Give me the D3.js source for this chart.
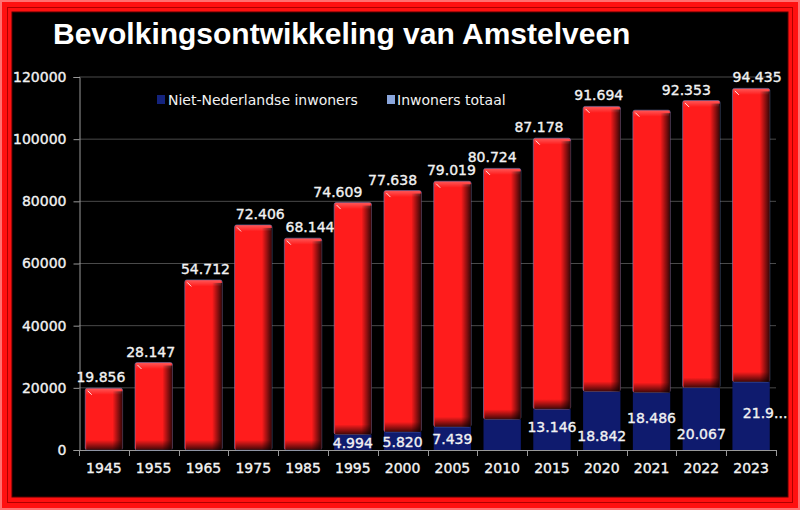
<!DOCTYPE html>
<html><head><meta charset="utf-8">
<script src="https://cdn.jsdelivr.net/npm/d3@7"></script>
<style>html,body{margin:0;padding:0;background:#000;}svg{display:block;}</style>
</head><body>
<svg id="c" width="800" height="510"></svg>
<script>
// ---- data ----
const years = ["1945","1955","1965","1975","1985","1995","2000","2005","2010","2015","2020","2021","2022","2023"];
const nietNederlands = [0,0,0,0,0,4994,5820,7439,9870,13146,18842,18486,20067,21900];
const inwonersTotaal = [19856,28147,54712,72406,68144,74609,77638,79019,80724,87178,91694,90840,92353,94435];
const totaalLabels = ["19.856","28.147","54.712","72.406","68.144","74.609","77.638","79.019","80.724","87.178","91.694",null,"92.353","94.435"];
const nietLabels = [null,null,null,null,null,"4.994","5.820","7.439",null,"13.146","18.842","18.486","20.067","21.9..."];
const yTicks = [0,20000,40000,60000,80000,100000,120000];
const seriesNames = ["Niet-Nederlandse inwoners","Inwoners totaal"];
const title = "Bevolkingsontwikkeling van Amstelveen";
// layout nudges for labels (px), as placed in the original
const topLabelNudge = [-3,-3,2,7,7,-15,-10,-1,-10,-13,-3,0,-15,6];
const nietLabelNudge = [0,0,0,0,0,0,0,0,0,0,0,0,0,14];

const svg = d3.select("#c");
const W = 800, H = 510;
const defs = svg.append("defs");
const FONT = "DejaVu Sans, Verdana, sans-serif";

// frame
svg.append("rect").attr("x",0).attr("y",0).attr("width",W).attr("height",H).attr("fill","#ff1010");
svg.append("rect").attr("x",1).attr("y",1).attr("width",W-2).attr("height",H-2).attr("fill","none").attr("stroke","#ff7070").attr("stroke-width",2);
svg.append("rect").attr("x",7.5).attr("y",7.5).attr("width",W-15).attr("height",H-15).attr("fill","none").attr("stroke","#b00000").attr("stroke-width",1);
svg.append("rect").attr("x",12).attr("y",12).attr("width",W-24).attr("height",H-25).attr("fill","#000").attr("stroke","#500000").attr("stroke-width",1);

// title
svg.append("text").attr("x",53).attr("y",44).text(title)
  .attr("font-family","Liberation Sans, Arial, sans-serif").attr("font-weight","bold")
  .attr("font-size",30).attr("fill","#fff");

const x = d3.scaleBand().domain(years).range([79,776]).paddingInner(0.25).paddingOuter(0.125);
const y = d3.scaleLinear().domain([0,120000]).range([450,77]);

function txt(sel){
  sel.attr("fill","#f2f2f2").attr("font-family",FONT).attr("font-size",14)
     .attr("stroke","#f2f2f2").attr("stroke-width",0.35);
}

// gridlines
svg.append("g").selectAll("line").data(yTicks.filter(d=>d>0)).join("line")
  .attr("x1",79).attr("x2",776).attr("y1",d=>y(d)).attr("y2",d=>y(d))
  .attr("stroke","#4a4a4a").attr("stroke-width",1);

// y axis
const yAxis = svg.append("g").attr("transform","translate(79.5,0)")
  .call(d3.axisLeft(y).tickValues(yTicks).tickFormat(d3.format("d")).tickSize(6).tickPadding(7));
yAxis.select(".domain").attr("stroke","#999");
yAxis.selectAll(".tick line").attr("stroke","#999");
yAxis.selectAll("text").call(txt);

// x axis
const xAxis = svg.append("g").attr("transform","translate(0,450.5)")
  .call(d3.axisBottom(x).tickSize(0).tickPadding(13));
xAxis.select(".domain").attr("stroke","#999").attr("d","M79,0H776");
xAxis.selectAll("text").call(txt);
const bounds = years.map(v=>x(v)-x.step()*x.paddingInner()/2).concat([776]);
svg.append("g").selectAll("line").data(bounds).join("line")
  .attr("x1",d=>Math.round(d)+0.5).attr("x2",d=>Math.round(d)+0.5).attr("y1",450).attr("y2",456)
  .attr("stroke","#999");

// gradients for bevel
const gR = defs.append("linearGradient").attr("id","gRight").attr("x1",0).attr("x2",1).attr("y1",0).attr("y2",0);
gR.append("stop").attr("offset","0%").attr("stop-color","#000").attr("stop-opacity",0);
gR.append("stop").attr("offset","100%").attr("stop-color","#000").attr("stop-opacity",0.8);
const gB = defs.append("linearGradient").attr("id","gBottom").attr("x1",0).attr("x2",0).attr("y1",0).attr("y2",1);
gB.append("stop").attr("offset","0%").attr("stop-color","#000").attr("stop-opacity",0);
gB.append("stop").attr("offset","100%").attr("stop-color","#000").attr("stop-opacity",0.75);
const gT = defs.append("linearGradient").attr("id","gTop").attr("x1",0).attr("x2",0).attr("y1",0).attr("y2",1);
gT.append("stop").attr("offset","0%").attr("stop-color","#fff").attr("stop-opacity",0.25);
gT.append("stop").attr("offset","100%").attr("stop-color","#fff").attr("stop-opacity",0);

const rows = years.map((yr,i)=>({yr,i,n:nietNederlands[i],t:inwonersTotaal[i]}));
const bw = x.bandwidth();

// navy segments
svg.append("g").selectAll("rect").data(rows.filter(d=>d.n>0)).join("rect")
  .attr("x",d=>x(d.yr)).attr("width",bw)
  .attr("y",d=>y(d.n)).attr("height",d=>y(0)-y(d.n))
  .attr("fill","#0f1b6e");

// red segments
const red = svg.append("g").selectAll("g").data(rows).join("g");
red.append("rect")
  .attr("x",d=>x(d.yr)).attr("width",bw)
  .attr("y",d=>y(d.n+d.t)).attr("height",d=>y(d.n)-y(d.n+d.t))
  .attr("rx",2).attr("fill","#ff1c1c").attr("stroke","#6f88c8").attr("stroke-width",0.8).attr("stroke-opacity",0.7);
red.append("rect")
  .attr("x",d=>x(d.yr)+bw-10).attr("width",10)
  .attr("y",d=>y(d.n+d.t)+3).attr("height",d=>y(d.n)-y(d.n+d.t)-3)
  .attr("fill","url(#gRight)");
red.append("rect")
  .attr("x",d=>x(d.yr)+1).attr("width",bw-2)
  .attr("y",d=>y(d.n)-10).attr("height",10)
  .attr("fill","url(#gBottom)");
red.append("rect")
  .attr("x",d=>x(d.yr)+1).attr("width",bw-2)
  .attr("y",d=>y(d.n+d.t)+0.5).attr("height",6)
  .attr("fill","url(#gTop)");
red.append("line")
  .attr("x1",d=>x(d.yr)+2.5).attr("y1",d=>y(d.n+d.t)+2.5)
  .attr("x2",d=>x(d.yr)+6.5).attr("y2",d=>y(d.n+d.t)+6.5)
  .attr("stroke","#fff").attr("stroke-width",1).attr("stroke-opacity",0.85);

// top labels
svg.append("g").selectAll("text").data(rows.filter(d=>totaalLabels[d.i])).join("text")
  .attr("x",d=>x(d.yr)+bw/2+topLabelNudge[d.i]).attr("y",d=>y(d.n+d.t)-6)
  .attr("text-anchor","middle").text(d=>totaalLabels[d.i]).call(txt);

// navy labels
svg.append("g").selectAll("text").data(rows.filter(d=>nietLabels[d.i])).join("text")
  .attr("x",d=>x(d.yr)+bw/2+nietLabelNudge[d.i]).attr("text-anchor","middle")
  .attr("y",d=>{
    const h = y(0)-y(d.n), c = (y(0)+y(d.n))/2;
    const cy = h < 30 ? c+1 : (d.i%2 ? c-3 : c+15);
    return cy+5;
  })
  .text(d=>nietLabels[d.i]).call(txt);

// legend
const lg = svg.append("g").attr("font-family",FONT).attr("font-size",14).attr("fill","#f2f2f2");
lg.append("rect").attr("x",157).attr("y",95).attr("width",8).attr("height",9).attr("fill","#14237d");
lg.append("text").attr("x",168).attr("y",105).text(seriesNames[0]);
lg.append("rect").attr("x",387).attr("y",95).attr("width",8).attr("height",9).attr("fill","#8aa6dc");
lg.append("text").attr("x",397).attr("y",105).text(seriesNames[1]);
</script>
</body></html>
